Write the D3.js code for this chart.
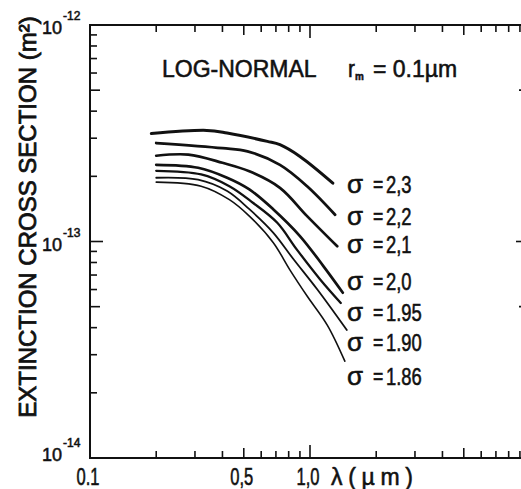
<!DOCTYPE html>
<html lang="en">
<head>
<meta charset="utf-8">
<title>Extinction cross section, log-normal</title>
<style>
  body { margin: 0; background: #fff; }
  svg text { font-family: "Liberation Sans", Arial, sans-serif; fill: #111; stroke: #111; stroke-width: 0.55px; }
  .axis line, .axis path { stroke: #111; }
  .curve { fill: none; stroke: #111; stroke-linecap: round; }
</style>
</head>
<body>
<svg id="chart" width="521" height="489"></svg>
<script src="https://d3js.org/d3.v7.min.js"></script>
<script>
// lambda (um), extinction cross section in units of 1e-13 m^2
var sigmaLabels = ["2,3", "2,2", "2,1", "2,0", "1.95", "1.90", "1.86"];
var curve230 = [[0.19, 3.15], [0.34, 3.26], [0.42, 3.17], [0.64, 2.90], [0.73, 2.80], [0.90, 2.47], [1.27, 1.86]];
var curve220 = [[0.20, 2.85], [0.40, 2.70], [0.52, 2.61], [0.73, 2.26], [0.97, 1.80], [1.30, 1.33]];
var curve210 = [[0.20, 2.49], [0.28, 2.52], [0.40, 2.31], [0.53, 2.11], [0.73, 1.77], [0.97, 1.31], [1.33, 0.95]];
var curve200 = [[0.20, 2.26], [0.31, 2.19], [0.42, 1.97], [0.53, 1.74], [0.68, 1.41], [0.90, 1.06], [1.15, 0.77], [1.41, 0.58]];
var curve195 = [[0.20, 2.12], [0.32, 2.04], [0.43, 1.80], [0.55, 1.51], [0.71, 1.22], [0.87, 0.92], [1.11, 0.67], [1.38, 0.52]];
var curve190 = [[0.20, 1.97], [0.31, 1.93], [0.42, 1.71], [0.53, 1.41], [0.68, 1.10], [0.84, 0.83], [1.08, 0.60], [1.47, 0.39]];
var curve186 = [[0.20, 1.88], [0.32, 1.80], [0.43, 1.56], [0.53, 1.31], [0.68, 0.99], [0.81, 0.74], [0.97, 0.56], [1.20, 0.41], [1.44, 0.28]];
var curves = [curve230, curve220, curve210, curve200, curve195, curve190, curve186];

var xTickLabels = [[0.1, "0.1"], [0.5, "0,5"], [1.0, "1,0"]];
var yDecades = [1e-12, 1e-13, 1e-14];
var yExponents = ["-12", "-13", "-14"];

var svg = d3.select("#chart");
var x = d3.scaleLog().domain([0.1, 10]).range([90, 530]);
var y = d3.scaleLog().domain([1e-14, 1e-12]).range([458, 25]);

// helper for the narrow stencil lettering
function txt(str, px, py, size, sx, anchor) {
  return svg.append("text")
    .attr("transform", "translate(" + px + "," + py + ") scale(" + sx + ",1)")
    .attr("text-anchor", anchor || "start")
    .style("font-size", size + "px")
    .text(str);
}

function tickLen(v) {
  var m = v / Math.pow(10, Math.floor(Math.log10(v) + 1e-9));
  if (Math.abs(m - 1) < 1e-6) return 13;
  if (Math.abs(m - 5) < 1e-6) return 10;
  return 7;
}

// frame
var frame = svg.append("g").attr("class", "axis");
frame.append("line").attr("x1", 90).attr("x2", 90).attr("y1", 24).attr("y2", 459).attr("stroke-width", 2);
frame.append("line").attr("x1", 89).attr("x2", 530).attr("y1", 25).attr("y2", 25).attr("stroke-width", 2);
frame.append("line").attr("x1", 89).attr("x2", 530).attr("y1", 458).attr("y2", 458).attr("stroke-width", 2);
frame.append("line").attr("x1", 530).attr("x2", 530).attr("y1", 25).attr("y2", 458).attr("stroke-width", 2);

var xt = x.ticks().filter(function(d) { return d > 0.1 && d < 10; });
var yt = y.ticks().filter(function(d) { return d > 1e-14 * 1.01 && d < 1e-12 * 0.99; });

frame.selectAll(".xb").data(xt).enter().append("line")
  .attr("x1", function(d) { return x(d); }).attr("x2", function(d) { return x(d); })
  .attr("y1", 458).attr("y2", function(d) { return 458 - tickLen(d); })
  .attr("stroke-width", 1.6);
frame.selectAll(".xtop").data(xt).enter().append("line")
  .attr("x1", function(d) { return x(d); }).attr("x2", function(d) { return x(d); })
  .attr("y1", 25).attr("y2", function(d) { return 25 + tickLen(d); })
  .attr("stroke-width", 1.6);
frame.selectAll(".yl").data(yt).enter().append("line")
  .attr("y1", function(d) { return y(d); }).attr("y2", function(d) { return y(d); })
  .attr("x1", 90).attr("x2", function(d) { return 90 + tickLen(d); })
  .attr("stroke-width", 1.6);
frame.selectAll(".yr").data(yt).enter().append("line")
  .attr("y1", function(d) { return y(d); }).attr("y2", function(d) { return y(d); })
  .attr("x1", 530).attr("x2", function(d) { return 530 - tickLen(d) - 1; })
  .attr("stroke-width", 1.6);

// y tick labels 10^n
yDecades.forEach(function(v, i) {
  var py = Math.min(y(v) + 9, 461);
  txt("10", 62, py, 19, 0.95, "end");
  txt(yExponents[i], 63, py - 14, 12, 1, "start");
});

// x tick labels
xTickLabels.forEach(function(t) {
  txt(t[1], x(t[0]) - 2, 485, 23, 0.72, "middle");
});
svg.append("text")
  .attr("x", 331).attr("y", 485)
  .attr("textLength", 82)
  .attr("lengthAdjust", "spacing")
  .style("font-size", "23px")
  .text("λ(µm)");

// y axis title
svg.append("text")
  .attr("transform", "translate(36,217) rotate(-90)")
  .attr("text-anchor", "middle")
  .style("font-size", "24px")
  .style("stroke-width", "0.8px")
  .text("EXTINCTION CROSS SECTION (m²)");

// title
txt("LOG-NORMAL", 162, 77, 23, 1, "start");
var rm = txt("r", 348, 77, 23, 0.9, "start");
rm.append("tspan").attr("dy", 3).style("font-size", "11px").style("font-weight", "bold").text("m");
txt("= 0.1µm", 373, 77, 23, 1, "start");

// curves
var line = d3.line()
  .x(function(d) { return x(d[0]); })
  .y(function(d) { return y(d[1] * 1e-13); })
  .curve(d3.curveCatmullRom.alpha(0.5));
var widths = [3, 2.8, 2.7, 2.7, 2.3, 1.8, 1.6];
svg.selectAll(".curve").data(curves).enter().append("path")
  .attr("class", "curve")
  .attr("stroke-width", function(d, i) { return widths[i]; })
  .attr("d", line);

// sigma labels placed beside each curve end
var labelBase = [193, 225, 253, 290, 321, 351, 385];
sigmaLabels.forEach(function(s, i) {
  txt("σ", 347, labelBase[i], 26, 1, "start");
  txt("=", 373, labelBase[i] - 1, 22, 0.8, "start");
  txt(s, 386, labelBase[i], 23, 0.8, "start");
});
</script>
</body>
</html>
